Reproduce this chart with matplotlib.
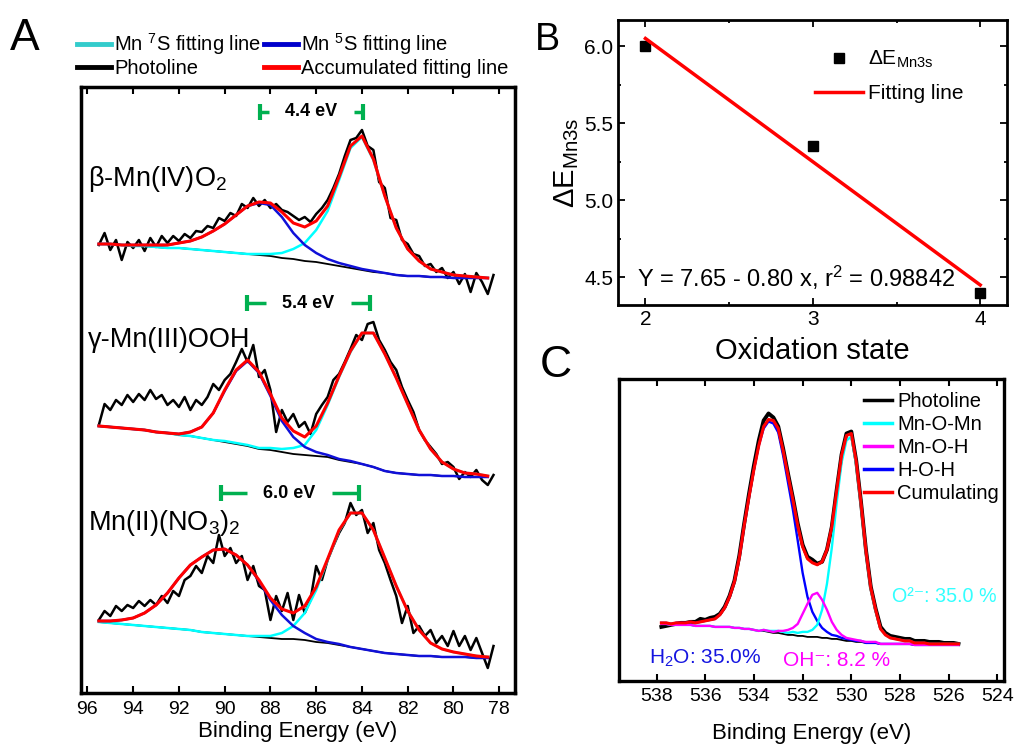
import numpy as np
import matplotlib
matplotlib.use("Agg")
import matplotlib.pyplot as plt
from matplotlib.lines import Line2D
from matplotlib.ticker import MultipleLocator

plt.rcParams['font.family'] = ['Liberation Sans', 'DejaVu Sans']
plt.rcParams['mathtext.fontset'] = 'custom'
plt.rcParams['mathtext.rm'] = 'Liberation Sans'
plt.rcParams['mathtext.it'] = 'Liberation Sans:italic'
plt.rcParams['mathtext.bf'] = 'Liberation Sans:bold'
plt.rcParams['mathtext.default'] = 'regular'

# ---------------- panel A : Mn 3s spectra (intensity in arbitrary units) ----------------
e_fit = np.linspace(95.5, 78.5, 35)      # fitted curves, 0.5 eV steps
e_raw = np.linspace(95.5, 78.25, 70)     # measured photoline, 0.25 eV steps

samples = ["β-Mn(IV)O$_2$", "γ-Mn(III)OOH", "Mn(II)(NO$_3$)$_2$"]

# beta-MnO2
raw_1 = [33, 45, 28, 38, 18, 36, 30, 38, 27, 40, 31, 42, 35, 42, 37, 44, 40, 47, 46, 52,
         50, 60, 57, 65, 62, 74, 70, 80, 72, 78, 70, 74, 68, 66, 62, 58, 61, 56, 64, 70,
         78, 90, 104, 122, 138, 140, 148, 132, 128, 96, 90, 60, 58, 38, 34, 24, 22, 12, 14, 6,
         10, 0, 6, -6, 4, -14, 5, -4, -16, 3]
bg_1 = [34, 34, 33, 32, 32, 31, 30, 30, 29, 28, 27, 26, 25, 24, 23, 22, 20, 19, 17, 16,
        14, 12, 10, 8, 6, 5, 3, 2, 2, 1, 1, 0, 0, 0, 0]
s7_1 = [0, 0, 0, 0, 0, 0, 0, 0, 0, 0, 0, 0, 0, 0, 1, 2, 5, 10, 18, 32,
        53, 86, 120, 133, 112, 77, 47, 27, 15, 8, 5, 3, 2, 1, 0]
s5_1 = [0, 0, 0, 1, 1, 2, 3, 5, 8, 13, 20, 28, 38, 48, 52, 51, 41, 26, 16, 9,
        5, 3, 2, 1, 1, 0, 0, 0, 0, 0, 0, 0, 0, 0, 0]

# gamma-MnOOH
raw_2 = [52, 73, 67, 77, 72, 82, 75, 83, 77, 87, 78, 82, 72, 77, 70, 80, 67, 77, 72, 80,
         93, 87, 97, 103, 115, 128, 115, 132, 100, 107, 87, 45, 67, 55, 63, 50, 55, 43, 63, 72,
         80, 97, 103, 115, 128, 142, 137, 153, 155, 137, 127, 115, 107, 90, 77, 65, 47, 37, 30, 23,
         13, 15, 10, -2, 5, 0, 7, -3, -8, 2]
bg_2 = [51, 50, 49, 48, 47, 45, 44, 42, 41, 39, 37, 35, 33, 31, 28, 27, 25, 23, 22, 21,
        20, 17, 15, 13, 10, 6, 4, 3, 2, 2, 1, 1, 0, 0, 0]
s7_2 = [0, 0, 0, 0, 0, 0, 0, 0, 0, 0, 0, 1, 1, 1, 1, 2, 3, 6, 10, 26,
        52, 83, 110, 131, 134, 117, 95, 70, 45, 26, 14, 7, 4, 3, 1]
s5_2 = [0, 0, 0, 0, 0, 0, 0, 1, 4, 11, 27, 51, 73, 85, 76, 54, 31, 17, 8, 4,
        2, 1, 1, 0, 0, 0, 0, 0, 0, 0, 0, 0, 0, 0, 0]

# Mn(NO3)2
raw_3 = [38, 47, 42, 52, 47, 53, 50, 57, 52, 58, 53, 62, 55, 67, 62, 78, 82, 92, 85, 102,
         95, 123, 102, 110, 95, 102, 78, 92, 72, 68, 38, 62, 47, 65, 38, 63, 45, 58, 92, 78,
         98, 112, 125, 135, 155, 143, 148, 125, 135, 108, 95, 78, 62, 35, 52, 25, 32, 22, 28, 15,
         22, 12, 27, 12, 22, 8, 20, 5, -10, 12]
bg_3 = [36, 35, 34, 33, 32, 31, 30, 29, 28, 26, 25, 24, 23, 22, 21, 20, 19, 19, 18, 16,
        15, 13, 11, 9, 7, 5, 4, 3, 2, 2, 1, 1, 1, 0, 0]
s7_3 = [0, 0, 0, 0, 0, 0, 0, 0, 0, 0, 0, 0, 0, 0, 1, 2, 6, 13, 27, 52,
        83, 114, 134, 136, 121, 95, 68, 44, 26, 13, 8, 5, 3, 2, 1]
s5_3 = [1, 2, 4, 7, 13, 22, 35, 51, 65, 75, 83, 85, 80, 71, 56, 38, 24, 13, 7, 3,
        1, 1, 0, 0, 0, 0, 0, 0, 0, 0, 0, 0, 0, 0, 0]

# splitting markers
split_hi = [88.46, 89.04, 90.18]
split_lo = [83.97, 83.63, 84.15]
split_txt = ["4.4 eV", "5.4 eV", "6.0 eV"]

# ---------------- panel B ----------------
ox_state = [2, 3, 4]
delta_e = [6.00, 5.35, 4.40]
fit_x = [2, 4]
fit_y = [6.05, 4.45]

# ---------------- panel C : O 1s ----------------
e_o1s = np.linspace(537.8, 525.6, 62)
photo_c = [18, 19, 20, 21, 22, 22, 23, 23, 26, 25, 27, 28, 31, 38, 49, 64, 89, 121, 151, 179,
           204, 224, 231, 227, 218, 196, 171, 147, 121, 100, 88, 85, 81, 83, 95, 118, 155, 190, 211, 213,
           184, 142, 95, 58, 36, 18, 12, 9, 8, 7, 6, 6, 4, 4, 4, 3, 3, 3, 2, 2, 2, 1]
bg_c = [21, 21, 20, 20, 20, 20, 20, 19, 19, 19, 19, 18, 18, 18, 18, 17, 17, 16, 16, 15,
        14, 14, 13, 12, 12, 11, 10, 10, 9, 9, 8, 8, 8, 7, 7, 6, 6, 5, 4, 4,
        3, 3, 2, 2, 2, 1, 1, 1, 1, 1, 1, 1, 0, 0, 0, 0, 0, 0, 0, 0, 0, 0]
mn_o_mn = [0, 0, 0, 0, 0, 0, 0, 0, 0, 0, 0, 0, 0, 0, 0, 0, 0, 0, 0, 0,
           0, 1, 1, 2, 2, 2, 2, 3, 3, 4, 5, 7, 12, 28, 54, 91, 136, 177, 200, 204,
           177, 136, 91, 54, 32, 15, 9, 6, 5, 4, 3, 3, 2, 2, 2, 1, 1, 1, 1, 1, 1, 1]
mn_o_h = [0, 0, 0, 0, 0, 0, 0, 0, 0, 0, 0, 0, 0, 0, 0, 0, 0, 0, 0, 0,
          0, 1, 1, 1, 2, 3, 5, 7, 12, 22, 33, 42, 44, 38, 28, 17, 9, 5, 3, 2,
          2, 1, 1, 1, 1, 0, 0, 0, 0, 0, 0, 0, 0, 0, 0, 0, 0, 0, 0, 0, 0, 0]
h_o_h = [1, 1, 1, 2, 2, 2, 3, 3, 4, 5, 6, 8, 12, 19, 30, 46, 70, 103, 132, 160,
         185, 202, 210, 209, 200, 178, 152, 125, 95, 63, 40, 25, 16, 10, 6, 4, 3, 2, 2, 1,
         1, 1, 0, 0, 0, 0, 0, 0, 0, 0, 0, 0, 0, 0, 0, 0, 0, 0, 0, 0, 0, 0]
c_labels = ["O²⁻: 35.0 %", "H$_2$O: 35.0%", "OH⁻: 8.2 %"]

CYAN = "#00FFFF"
BLUE = "#1010D8"
RED = "#FF0000"
MAG = "#FF00FF"
GREEN = "#00B050"

W, H = 1016, 749


def box(l, t, r, b):
    return [l / W, 1 - b / H, (r - l) / W, (b - t) / H]


def style_spines(ax, lw):
    for s in ax.spines.values():
        s.set_linewidth(lw)


fig = plt.figure(figsize=(10.16, 7.49), dpi=100)

# ---------------- A ----------------
axA = fig.add_axes(box(81, 87, 515, 693))
offsets = [415, 216, 35]
raws = [raw_1, raw_2, raw_3]
bgs = [bg_1, bg_2, bg_3]
s7s = [s7_1, s7_2, s7_3]
s5s = [s5_1, s5_2, s5_3]
for k in range(3):
    off = offsets[k]
    bg = np.array(bgs[k]) + off
    p7 = np.array(s7s[k])
    p5 = np.array(s5s[k])
    axA.plot(e_raw, np.array(raws[k]) + off, color="black", lw=1.8)
    axA.plot(e_fit, bg, color="black", lw=1.3)
    axA.plot(e_fit, bg + p7, color=CYAN, lw=1.8)
    axA.plot(e_fit, bg + p5, color=BLUE, lw=1.8)
    axA.plot(e_fit, bg + p7 + p5, color=RED, lw=2.2)

label_base = [507, 346, 163]
for k in range(3):
    axA.text(95.97, label_base[k], samples[k], fontsize=19.5, va="baseline", ha="left")

split_y = [581, 390, 200]
gap = 1.85
for k in range(3):
    c = (split_hi[k] + split_lo[k]) / 2
    y = split_y[k]
    axA.plot([split_hi[k], c + gap], [y, y], color=GREEN, lw=2.5, solid_capstyle="butt")
    axA.plot([c - gap, split_lo[k]], [y, y], color=GREEN, lw=2.5, solid_capstyle="butt")
    axA.plot([split_hi[k], split_lo[k]], [y, y], ls="none", marker="|", ms=12, mew=3, color=GREEN)
    axA.text(c, y, split_txt[k], fontsize=13, fontweight="bold", ha="center", va="center")

axA.set_xlim(96.28, 77.31)
axA.set_ylim(0, 606)
axA.set_xticks(np.arange(96, 77, -2))
axA.set_yticks([])
axA.tick_params(axis="x", direction="in", length=5, width=1.5, top=True, labelsize=14, pad=6)
axA.set_xlabel("Binding Energy (eV)", fontsize=16, labelpad=2)
style_spines(axA, 2.5)

hA = [Line2D([], [], color="#33CCCC", lw=3.5),
      Line2D([], [], color="black", lw=3.5),
      Line2D([], [], color="#0000CC", lw=3.5),
      Line2D([], [], color=RED, lw=3.5)]
lA = ["Mn $^{7}$S fitting line", "Photoline", "Mn $^{5}$S fitting line", "Accumulated fitting line"]
fig.legend(hA, lA, ncol=2, loc="upper left", bbox_to_anchor=(77 / W, 1 - 31 / H), frameon=False,
           borderpad=0, borderaxespad=0, handlelength=1.7, handletextpad=0.15, columnspacing=0.1,
           labelspacing=0.12, fontsize=14.5)

# ---------------- B ----------------
axB = fig.add_axes(box(618, 20, 1007, 305))
axB.plot(ox_state, delta_e, ls="none", marker="s", ms=7, color="black", label="ΔE$_{Mn3s}$")
axB.plot(fit_x, fit_y, color=RED, lw=2.5, label="Fitting line")
axB.set_xlim(1.836, 4.16)
axB.set_ylim(4.32, 6.17)
axB.set_xticks([2, 3, 4])
axB.xaxis.set_minor_locator(MultipleLocator(0.5))
axB.set_yticks([4.5, 5.0, 5.5, 6.0])
axB.yaxis.set_minor_locator(MultipleLocator(0.25))
axB.yaxis.set_major_formatter(plt.FormatStrFormatter("%.1f"))
axB.tick_params(which="both", direction="in", top=True, right=True, width=1.3, labelsize=15)
axB.tick_params(which="major", length=5)
axB.tick_params(which="minor", length=2.5)
axB.set_xlabel("Oxidation state", fontsize=21, labelpad=6)
axB.set_ylabel("ΔE$_{Mn3s}$", fontsize=21, labelpad=2)
axB.text(0.05, 0.095, "Y = 7.65 - 0.80 x, r$^2$ = 0.98842", transform=axB.transAxes,
         fontsize=17, va="center", ha="left")
axB.legend(loc="upper left", bbox_to_anchor=((815 - 618) / 389, 1 - (49 - 20) / 285), frameon=False,
           borderpad=0, borderaxespad=0, handlelength=2.3, handletextpad=0.25, labelspacing=0.65,
           fontsize=15)
style_spines(axB, 2)

# ---------------- C ----------------
axC = fig.add_axes(box(619, 379, 1004, 681))
offC = 36
bgc = np.array(bg_c) + offC
axC.plot(e_o1s, np.array(photo_c) + offC, color="black", lw=2.8)
axC.plot(e_o1s, bgc, color="black", lw=1.3)
axC.plot(e_o1s, bgc + np.array(h_o_h), color="#0000FF", lw=1.7)
axC.plot(e_o1s, bgc + np.array(mn_o_mn), color=CYAN, lw=1.7)
axC.plot(e_o1s, bgc + np.array(mn_o_h), color=MAG, lw=1.7)
axC.plot(e_o1s, bgc + np.array(h_o_h) + np.array(mn_o_mn) + np.array(mn_o_h), color=RED, lw=2.2)
axC.set_xlim(539.54, 523.73)
axC.set_ylim(0, 301.4)
axC.set_xticks(np.arange(538, 523, -2))
axC.set_yticks([])
axC.tick_params(axis="x", direction="in", length=5, width=1.5, top=True, labelsize=14, pad=5)
axC.set_xlabel("Binding Energy (eV)", fontsize=16, labelpad=13)
style_spines(axC, 2.4)

hC = [Line2D([], [], color="black", lw=2.5), Line2D([], [], color=CYAN, lw=2.5),
      Line2D([], [], color=MAG, lw=2.5), Line2D([], [], color="#0000FF", lw=2.5),
      Line2D([], [], color=RED, lw=2.5)]
lC = ["Photoline", "Mn-O-Mn", "Mn-O-H", "H-O-H", "Cumulating"]
axC.legend(hC, lC, loc="upper left", bbox_to_anchor=((864 - 619) / 385, 1 - (392 - 379) / 302),
           frameon=False, borderpad=0, borderaxespad=0, handlelength=1.4, handletextpad=0.25,
           labelspacing=0.2, fontsize=14.5)

fig.text(892 / W, 1 - 596 / H, c_labels[0], color="#33FFFF", fontsize=14.2, va="center", ha="left")
fig.text(649 / W, 1 - 658 / H, c_labels[1], color="#1515E0", fontsize=15, va="center", ha="left")
fig.text(783 / W, 1 - 661 / H, c_labels[2], color=MAG, fontsize=15, va="center", ha="left")

# panel letters
fig.text(10 / W, 1 - 50 / H, "A", fontsize=32, va="baseline", ha="left")
fig.text(535 / W, 1 - 50 / H, "B", fontsize=27, va="baseline", ha="left")
fig.text(540 / W, 1 - 377 / H, "C", fontsize=32, va="baseline", ha="left")

fig.savefig("out.png", dpi=100)
